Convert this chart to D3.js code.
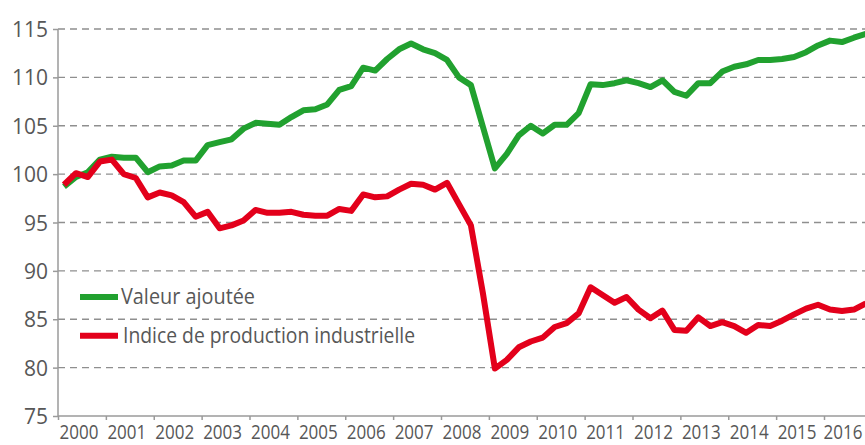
<!DOCTYPE html>
<html>
	<head>
		<meta charset="utf-8">
		<title>Valeur ajoutée et production industrielle</title>
		<style>
			body { margin: 0; background: #fff; }
			svg { display: block; }
			.tick-label { font-family: "Open Sans", sans-serif; fill: #575757; }
			.legend text { font-family: "Open Sans", sans-serif; fill: #575757; font-size: 21px; }
		</style>
		<script src="https://d3js.org/d3.v7.min.js"></script>
	</head>
	<body>
		<div id="chart"></div>
		<script>
			// data : indices trimestriels, 2000T1 -> 2016T4
			var years = [2000, 2001, 2002, 2003, 2004, 2005, 2006, 2007, 2008,
			2009, 2010, 2011, 2012, 2013, 2014, 2015, 2016];
			var yTicks = [75, 80, 85, 90, 95, 100, 105, 110, 115];
			var seriesNames = ["Valeur ajoutée", "Indice de production industrielle"];

			var valeurAjoutee = [
			98.7, 99.7, 100.2, 101.5, 101.8, 101.7, 101.7, 100.2,
			100.8, 100.9, 101.4, 101.4, 103.0, 103.3, 103.6, 104.7,
			105.3, 105.2, 105.1, 105.9, 106.6, 106.7, 107.2, 108.7,
			109.1, 111.0, 110.7, 111.9, 112.9, 113.5, 112.9, 112.5,
			111.8, 110.0, 109.2, 104.9, 100.6, 102.1, 104.0, 105.0,
			104.2, 105.1, 105.1, 106.3, 109.3, 109.2, 109.4, 109.7,
			109.4, 109.0, 109.7, 108.5, 108.1, 109.4, 109.4, 110.6,
			111.1, 111.35, 111.8, 111.8, 111.9, 112.1, 112.6, 113.3,
			113.8, 113.65, 114.1, 114.5
			];

			var indiceProduction = [
			98.9, 100.1, 99.7, 101.3, 101.5, 100.0, 99.6, 97.6,
			98.1, 97.8, 97.1, 95.6, 96.1, 94.4, 94.7, 95.2,
			96.3, 96.0, 96.0, 96.1, 95.8, 95.7, 95.7, 96.4,
			96.2, 97.9, 97.6, 97.7, 98.4, 99.0, 98.9, 98.4,
			99.1, 96.9, 94.7, 87.7, 79.9, 80.8, 82.1, 82.7,
			83.1, 84.2, 84.6, 85.6, 88.3, 87.5, 86.7, 87.3,
			86.0, 85.1, 85.9, 83.9, 83.8, 85.2, 84.3, 84.7,
			84.3, 83.6, 84.4, 84.3, 84.85, 85.5, 86.1, 86.5,
			86.0, 85.85, 86.0, 86.65
			];

			var colors = ["#21a12f", "#e3001b"];

			// dimensions
			var margin = {top: 29, right: 0, bottom: 29, left: 58},
			fullWidth = 865, fullHeight = 445,
			height = fullHeight - margin.top - margin.bottom;

			var x = d3.scaleLinear()
			.domain([2000, 2016])
			.range([0, 766]);

			var y = d3.scaleLinear()
			.domain([75, 115])
			.range([height, 0]);

			var svg = d3.select("#chart").append("svg")
			.attr("width", fullWidth)
			.attr("height", fullHeight)
			.append("g")
			.attr("transform", "translate(" + margin.left + "," + margin.top + ")");

			var plotRight = fullWidth - margin.left;

			// grid lines (dashed)
			svg.append("g")
			.selectAll("line")
			.data(yTicks.filter(function(d) { return d > 75; }))
			.enter().append("line")
			.attr("x1", 0)
			.attr("x2", plotRight)
			.attr("y1", function(d) { return y(d); })
			.attr("y2", function(d) { return y(d); })
			.attr("stroke", "#8f8f8f")
			.attr("stroke-width", 1.3)
			.attr("stroke-dasharray", "7,5");

			// y axis
			var yAxis = d3.axisLeft(y)
			.tickValues(yTicks)
			.tickSize(5)
			.tickPadding(5);

			var gy = svg.append("g").call(yAxis);
			gy.selectAll("path, line").attr("stroke", "#9a9a9a").attr("stroke-width", 1.5);
			gy.selectAll("text")
			.attr("class", "tick-label")
			.attr("font-size", "21px")
			.attr("dy", "0.36em");
			gy.attr("font-family", null).attr("font-size", null);
			gy.select(".domain").attr("d", "M0," + y(115) + "V" + y(75));

			// x axis
			var xAxis = d3.axisBottom(x)
			.tickValues(years.concat([2017]))
			.tickSize(4)
			.tickFormat("");

			var gx = svg.append("g")
			.attr("transform", "translate(0," + height + ")")
			.call(xAxis);
			gx.select(".domain").attr("d", "M0,0H" + plotRight);
			gx.selectAll("path, line").attr("stroke", "#9a9a9a").attr("stroke-width", 1.5);

			// year labels (narrow), the last one kept inside the picture
			svg.append("g")
			.selectAll("text")
			.data(years)
			.enter().append("text")
			.attr("class", "tick-label")
			.attr("font-size", "20px")
			.attr("text-anchor", "middle")
			.attr("transform", function(d) {
				var cx = Math.min(x(d + 0.5) - 3, plotRight - 22);
				return "translate(" + cx + "," + (height + 23) + ") scale(0.85,1)";
			})
			.text(function(d) { return d; });

			// lines
			var line = d3.line()
			.x(function(d, i) { return x(2000 + (i + 0.5) / 4); })
			.y(function(d) { return y(d); });

			svg.append("g")
			.selectAll("path")
			.data([valeurAjoutee, indiceProduction])
			.enter().append("path")
			.attr("fill", "none")
			.attr("stroke", function(d, i) { return colors[i]; })
			.attr("stroke-width", 6)
			.attr("stroke-linejoin", "round")
			.attr("d", line);

			// legend
			var legend = svg.append("g").attr("class", "legend");
			var legendY = [y(87.3), y(83.3)];
			var legendLen = [134, 292];

			legend.selectAll("line")
			.data(seriesNames)
			.enter().append("line")
			.attr("x1", 22)
			.attr("x2", 60)
			.attr("y1", function(d, i) { return legendY[i]; })
			.attr("y2", function(d, i) { return legendY[i]; })
			.attr("stroke", function(d, i) { return colors[i]; })
			.attr("stroke-width", 6);

			legend.selectAll("text")
			.data(seriesNames)
			.enter().append("text")
			.attr("x", function(d, i) { return i === 0 ? 63 : 65; })
			.attr("y", function(d, i) { return legendY[i] + 7; })
			.attr("textLength", function(d, i) { return legendLen[i]; })
			.attr("lengthAdjust", "spacingAndGlyphs")
			.text(function(d) { return d; });
		</script>
	</body>
</html>
